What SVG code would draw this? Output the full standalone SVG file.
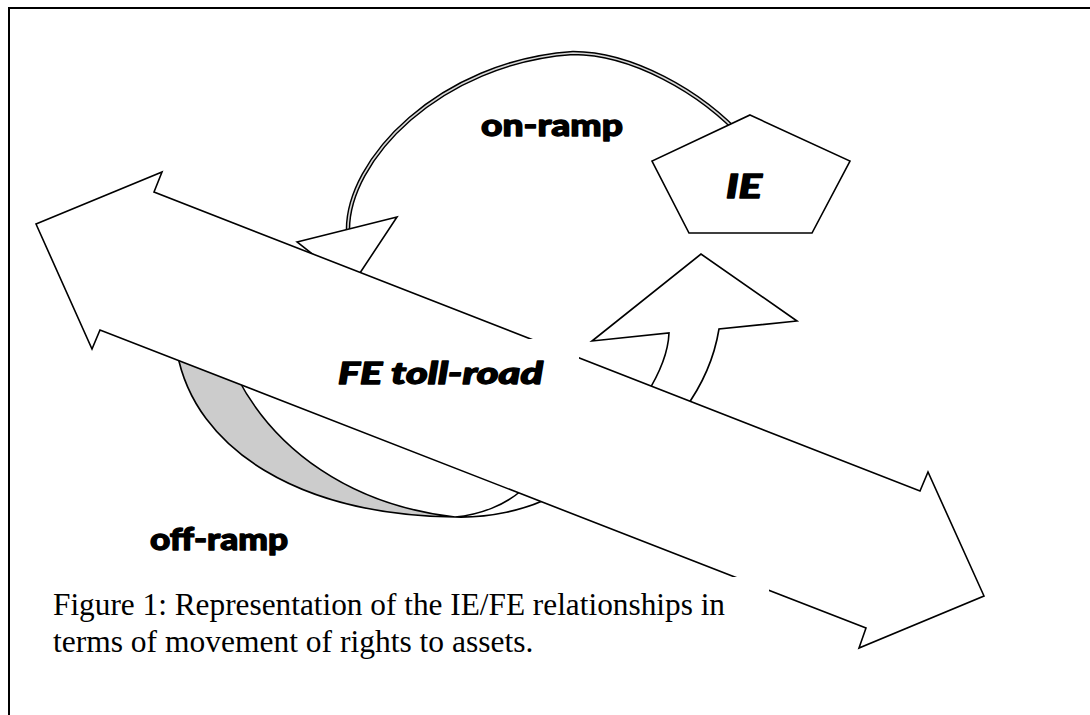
<svg xmlns="http://www.w3.org/2000/svg" width="1090" height="715" viewBox="0 0 1090 715">
<style>
.ln{stroke:#000;stroke-width:1.6;stroke-linejoin:miter}
.wh{fill:#fff}
.lbl{font-family:Lato,'Liberation Sans',sans-serif;font-weight:900;fill:#000;stroke:#000;stroke-width:1.3;stroke-linejoin:round}
.cap{font-family:'Liberation Serif','Times New Roman',serif;font-size:31.5px;fill:#000}
</style>
<rect width="1090" height="715" fill="#fff"/>
<path id="frame" d="M9,716 V8 H1092" fill="none" stroke="#000" stroke-width="2"/>
<g id="connectors">
  <g id="on-ramp-arrow">
    <path d="M348,232 C346,160 440,62 573,53 C630,53 700,90 745,140" fill="none" stroke="#000" stroke-width="4.5"/>
    <path d="M348,232 C346,160 440,62 573,53 C630,53 700,90 745,140" fill="none" stroke="#d8d8d8" stroke-width="1.6"/>
    <path class="ln wh" d="M297,242 L397,217 L352,285 Z"/>
  </g>
  <g id="off-ramp-arrow">
    <path class="ln" fill="#cccccc" d="M177,352 C195,450 300,515 455,517 C350,505 275,450 237,377 Z"/>
    <path class="ln wh" d="M455,517 C490,518 525,510 551,497 L522,490 C505,505 480,515 455,517 Z"/>
  </g>
  <g id="up-arrow">
    <path class="ln wh" d="M646,395 Q668,360 669,333 L592,341 L701,254 L797,321 L719,329 Q712,372 684,410 Z"/>
  </g>
</g>
<g id="toll-road">
  <path class="ln wh" d="M36,224 L162,172 L154,192 L920,491 L928,472 L984,596 L859,648 L866,628 L100,330 L92,349 Z"/>
  <rect x="330" y="339" width="249" height="64" fill="#fff"/>
  <text class="lbl" x="338" y="384" font-size="30" font-style="italic" textLength="205" lengthAdjust="spacingAndGlyphs">FE toll-road</text>
</g>
<g id="IE">
  <path class="ln wh" d="M750,115 L850,161 L812,233 L689,233 L652,161 Z"/>
  <text class="lbl" x="726" y="198" font-size="32" font-style="italic" textLength="36" lengthAdjust="spacingAndGlyphs">IE</text>
</g>
<g id="on-ramp-label">
  <text class="lbl" x="481" y="136" font-size="31" textLength="142" lengthAdjust="spacingAndGlyphs">on-ramp</text>
</g>
<g id="off-ramp-label">
  <text class="lbl" x="150" y="550" font-size="31" textLength="138" lengthAdjust="spacingAndGlyphs">off-ramp</text>
</g>
<g id="caption">
  <rect x="40" y="577" width="729" height="110" fill="#fff"/>
  <text class="cap" x="53" y="615" textLength="672" lengthAdjust="spacingAndGlyphs">Figure 1: Representation of the IE/FE relationships in</text>
  <text class="cap" x="53" y="652">terms of movement of rights to assets.</text>
</g>
</svg>
